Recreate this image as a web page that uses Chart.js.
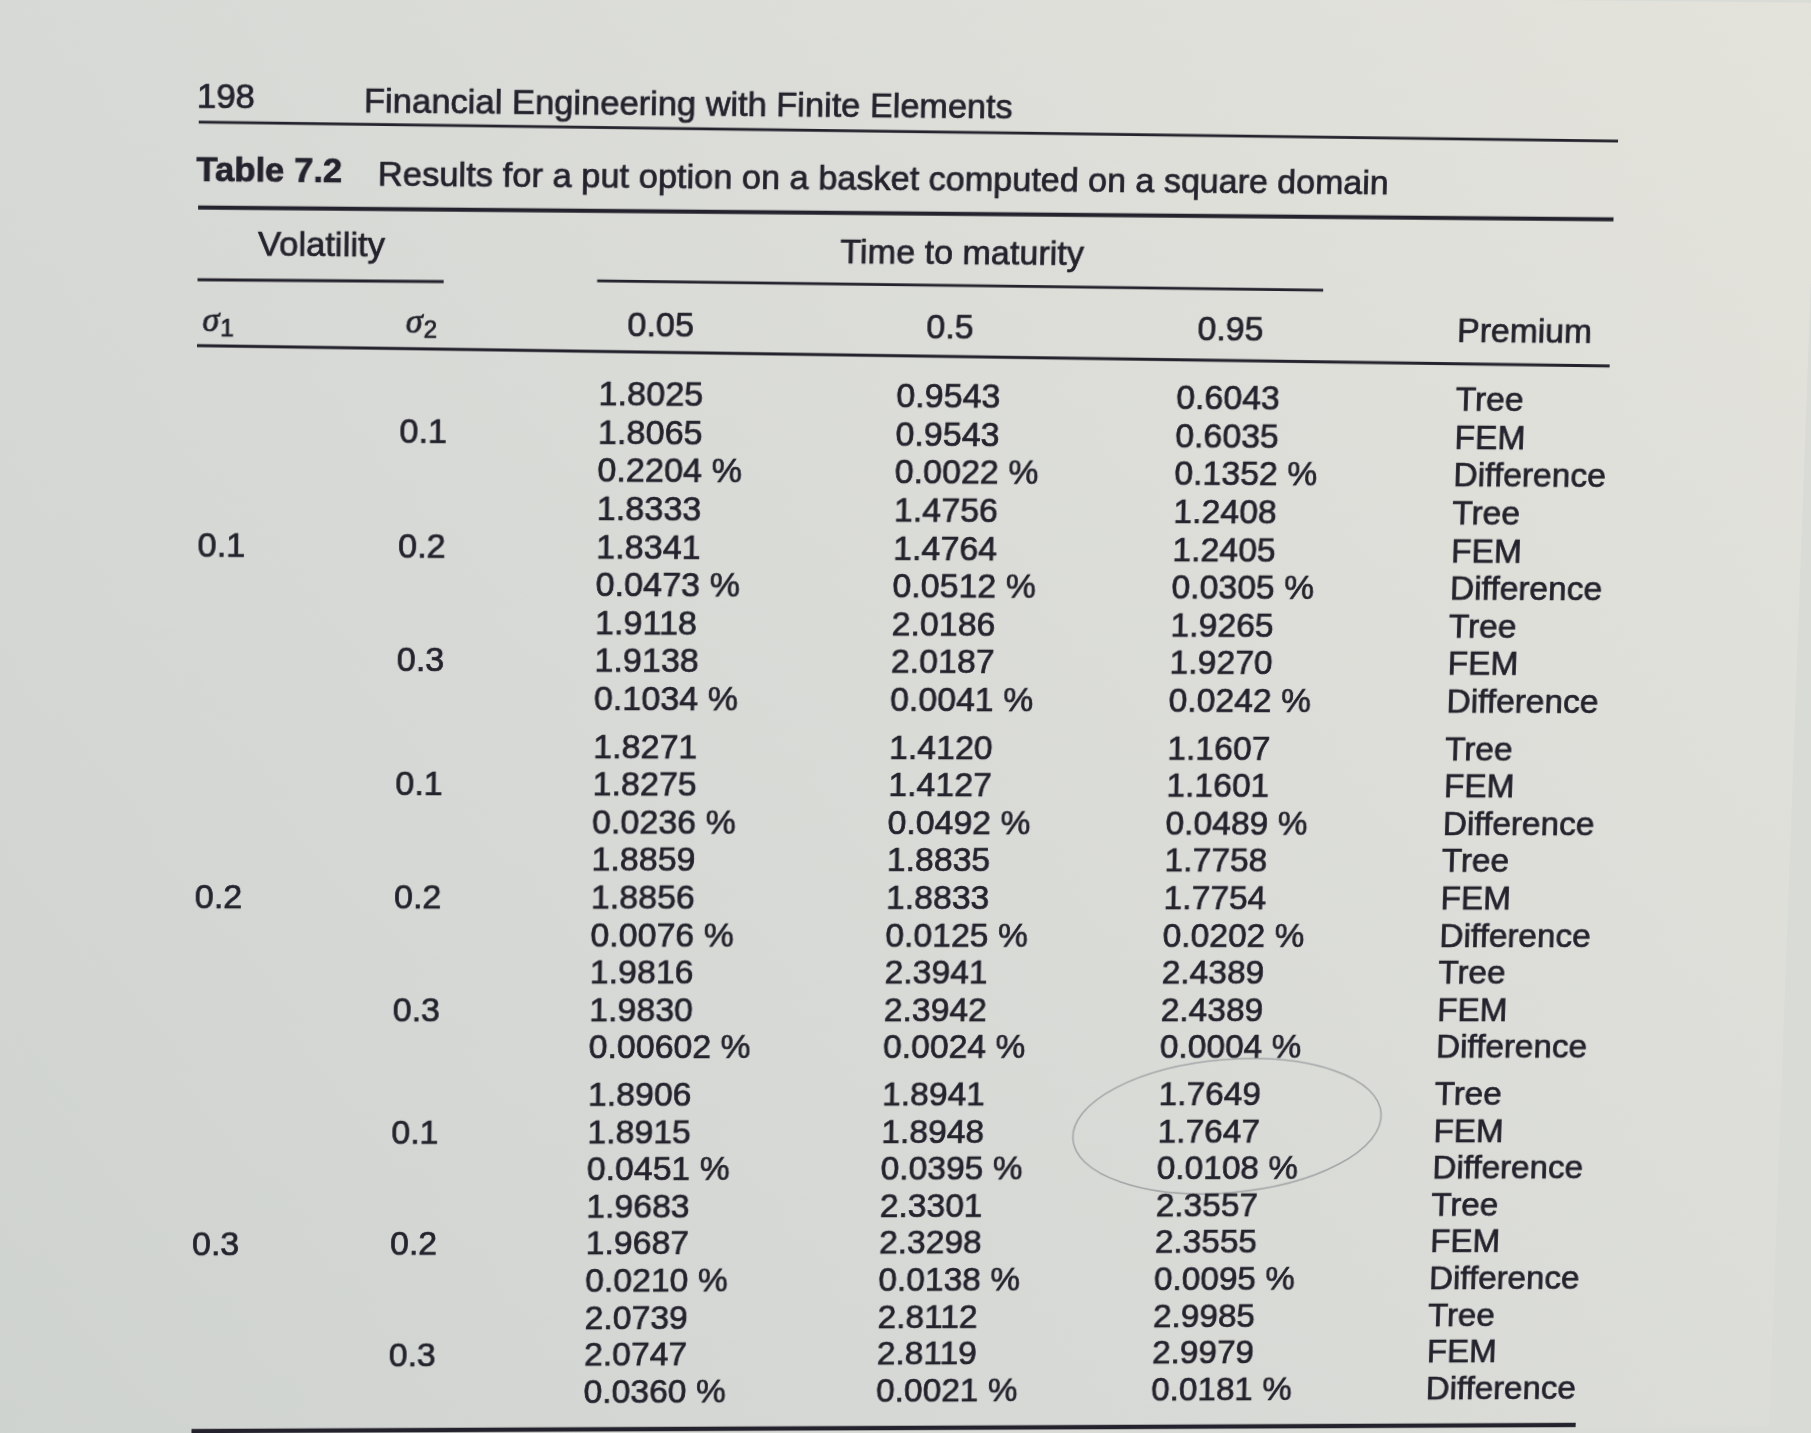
<!DOCTYPE html>
<html lang="en">
<head>
<meta charset="UTF-8">
<title>Table 7.2</title>
<script src="https://cdn.jsdelivr.net/npm/chart.js"></script>
<style>
  html, body { margin: 0; padding: 0; background: #d9dbd7; overflow: hidden; }
  #page { display: block; transform-origin: 0 0; }
</style>
</head>
<body>
<canvas id="page" width="1811" height="1433"></canvas>
<script>
// values as printed in Table 7.2
const sigma1 = ['0.1', '0.2', '0.3'];
const sigma2 = ['0.1', '0.2', '0.3'];
const maturities = ['0.05', '0.5', '0.95'];
const methods = ['Tree', 'FEM', 'Difference'];

// one entry per (sigma1, sigma2) pair, in table order
const tree005 = [1.8025, 1.8333, 1.9118, 1.8271, 1.8859, 1.9816, 1.8906, 1.9683, 2.0739];
const fem005  = [1.8065, 1.8341, 1.9138, 1.8275, 1.8856, 1.9830, 1.8915, 1.9687, 2.0747];
const diff005 = ['0.2204', '0.0473', '0.1034', '0.0236', '0.0076', '0.00602', '0.0451', '0.0210', '0.0360'];

const tree05 = [0.9543, 1.4756, 2.0186, 1.4120, 1.8835, 2.3941, 1.8941, 2.3301, 2.8112];
const fem05  = [0.9543, 1.4764, 2.0187, 1.4127, 1.8833, 2.3942, 1.8948, 2.3298, 2.8119];
const diff05 = ['0.0022', '0.0512', '0.0041', '0.0492', '0.0125', '0.0024', '0.0395', '0.0138', '0.0021'];

const tree095 = [0.6043, 1.2408, 1.9265, 1.1607, 1.7758, 2.4389, 1.7649, 2.3557, 2.9985];
const fem095  = [0.6035, 1.2405, 1.9270, 1.1601, 1.7754, 2.4389, 1.7647, 2.3555, 2.9979];
const diff095 = ['0.1352', '0.0305', '0.0242', '0.0489', '0.0202', '0.0004', '0.0108', '0.0095', '0.0181'];

const pageNumber = '198';
const bookTitle = 'Financial Engineering with Finite Elements';
const tableLabel = 'Table 7.2';
const tableCaption = 'Results for a put option on a basket computed on a square domain';

// ---- layout (scale units: x in 1/100 of the page, y in table rows) ----
const GROUP_GAP = 0.266;
const COLX = { s1: 2.04, s2: 4.02, m: [5.985, 8.945, 11.745], prem: 14.555 };
const INK = '#24232d';
const FONT = '"Liberation Sans", Arial, sans-serif';
const BODY = '34px ' + FONT;
const HEAD = '34px ' + FONT;

const rowPos = r => r + Math.floor(r / 9) * GROUP_GAP;

function valueColumn(tree, fem, diff) {
  const texts = [];
  tree.forEach((t, k) => {
    texts.push(t.toFixed(4), fem[k].toFixed(4), diff[k] + ' %');
  });
  return texts;
}

const columns = [
  { texts: valueColumn(tree005, fem005, diff005), x: COLX.m[0] },
  { texts: valueColumn(tree05, fem05, diff05), x: COLX.m[1] },
  { texts: valueColumn(tree095, fem095, diff095), x: COLX.m[2] },
  { texts: sigma1.flatMap(() => sigma2.flatMap(() => methods)), x: COLX.prem },
  { texts: sigma1, x: COLX.s1, rows: sigma1.map((_, i) => 9 * i + 4) },
  { texts: sigma1.flatMap(() => sigma2), x: COLX.s2, rows: sigma1.flatMap((_, i) => sigma2.map((_, j) => 9 * i + 3 * j + 1)) }
];

const datasets = columns.map(c => ({
  texts: c.texts,
  data: c.texts.map((_, i) => ({ x: c.x, y: rowPos(c.rows ? c.rows[i] : i) })),
  pointRadius: 0,
  showLine: false
}));

const paper = {
  id: 'paper',
  beforeDraw(chart) {
    const { ctx, width, height } = chart;
    const g = ctx.createLinearGradient(0, height, width, 0);
    g.addColorStop(0, '#cfd3d0');
    g.addColorStop(0.5, '#d9dbd7');
    g.addColorStop(1, '#e3e3db');
    ctx.save();
    ctx.fillStyle = g;
    ctx.fillRect(0, 0, width, height);
    ctx.restore();
  }
};

const tableText = {
  id: 'tableText',
  afterDatasetsDraw(chart) {
    const { ctx } = chart;
    const xs = chart.scales.x, ys = chart.scales.y;
    const X = v => xs.getPixelForValue(v), Y = v => ys.getPixelForValue(v);
    const put = (s, x, y) => { ctx.fillText(s, x, y); ctx.strokeText(s, x, y); };
    ctx.save();

    // faint pen circle someone drew around one result
    ctx.strokeStyle = 'rgba(120, 124, 130, 0.55)';
    ctx.lineWidth = 1.6;
    ctx.beginPath();
    ctx.ellipse(X(12.45), Y(19.35), X(1.57) - X(0), Y(1.8) - Y(0), -0.08, 0, Math.PI * 2);
    ctx.stroke();

    ctx.fillStyle = INK;
    ctx.strokeStyle = INK;
    ctx.lineWidth = 0.7;
    ctx.textAlign = 'left';
    ctx.textBaseline = 'middle';

    // body cells
    ctx.font = BODY;
    chart.data.datasets.forEach((ds, i) => {
      chart.getDatasetMeta(i).data.forEach((el, j) => put(ds.texts[j], el.x, el.y));
    });

    // running head and caption
    ctx.font = HEAD;
    put(pageNumber, X(2.00), Y(-7.63));
    put(bookTitle, X(3.635), Y(-7.55));
    ctx.font = 'bold ' + HEAD;
    put(tableLabel, X(2.00), Y(-5.74));
    ctx.font = HEAD;
    put(tableCaption, X(3.78), Y(-5.66));

    // column headers
    put('Volatility', X(2.61), Y(-3.83));
    put('Time to maturity', X(8.36), Y(-3.76));
    const headX = [6.26, 9.23, 11.94];
    maturities.forEach((m, i) => put(m, X(headX[i]), Y(-1.82)));
    put('Premium', X(14.55), Y(-1.82));
    [[2.07, '1'], [4.07, '2']].forEach(([x, sub]) => {
      ctx.font = 'italic 34px "Liberation Serif", serif';
      put('\u03c3', X(x), Y(-1.86));
      const w = ctx.measureText('\u03c3').width;
      ctx.font = '24px ' + FONT;
      put(sub, X(x) + w + 1, Y(-1.86) + 7);
    });

    // rules
    const rule = (x0, x1, y0, y1, lw) => {
      ctx.lineWidth = lw;
      ctx.beginPath();
      ctx.moveTo(X(x0), Y(y0));
      ctx.lineTo(X(x1), Y(y1));
      ctx.stroke();
    };
    rule(2.02, 16.11, -7.02, -6.87, 2.8);
    rule(2.02, 16.09, -4.82, -4.82, 4);
    rule(2.02, 4.44, -2.95, -2.95, 2.8);
    rule(5.955, 13.19, -3.00, -2.90, 2.8);
    rule(2.02, 16.10, -1.24, -0.96, 3);
    rule(2.05, 16.11, 27.50, 27.50, 4.5);
    ctx.restore();
  }
};

new Chart(document.getElementById('page').getContext('2d'), {
  type: 'scatter',
  data: { datasets },
  options: {
    responsive: false,
    animation: false,
    events: [],
    layout: { padding: 0 },
    plugins: { legend: { display: false }, tooltip: { enabled: false } },
    scales: {
      x: { type: 'linear', display: false, min: 0, max: 18.11 },
      y: { type: 'linear', display: false, reverse: true, min: -10.53, max: 27.582 }
    }
  },
  plugins: [paper, tableText]
});

// the page was photographed at a slight angle: warp the flat canvas with a homography
// flat corners of the body block -> where they sit in the photo
const camFrom = [[600, 394], [1457, 394], [600, 1391.5], [1457, 1391.5]];
const camTo = [[600, 394], [1457, 399.5], [585, 1391.5], [1427, 1388]];

function solve(A, b) {
  const n = b.length;
  for (let c = 0; c < n; c++) {
    let p = c;
    for (let r = c + 1; r < n; r++) if (Math.abs(A[r][c]) > Math.abs(A[p][c])) p = r;
    [A[c], A[p]] = [A[p], A[c]];
    [b[c], b[p]] = [b[p], b[c]];
    for (let r = c + 1; r < n; r++) {
      const f = A[r][c] / A[c][c];
      for (let k = c; k < n; k++) A[r][k] -= f * A[c][k];
      b[r] -= f * b[c];
    }
  }
  const x = new Array(n).fill(0);
  for (let r = n - 1; r >= 0; r--) {
    let s = b[r];
    for (let k = r + 1; k < n; k++) s -= A[r][k] * x[k];
    x[r] = s / A[r][r];
  }
  return x;
}

const A = [], b = [];
camFrom.forEach(([x, y], i) => {
  const [u, v] = camTo[i];
  A.push([x, y, 1, 0, 0, 0, -x * u, -y * u]); b.push(u);
  A.push([0, 0, 0, x, y, 1, -x * v, -y * v]); b.push(v);
});
const h = solve(A, b);
document.getElementById('page').style.transform =
  `matrix3d(${h[0]},${h[3]},0,${h[6]},${h[1]},${h[4]},0,${h[7]},0,0,1,0,${h[2]},${h[5]},0,1)`;
</script>
</body>
</html>
